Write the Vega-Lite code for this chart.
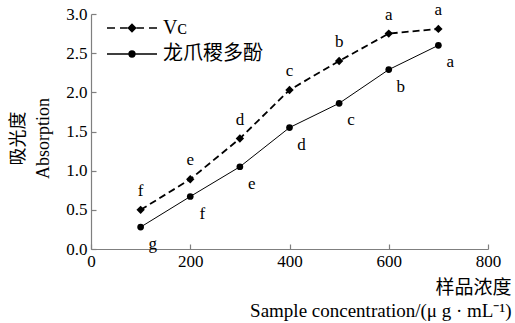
{
  "$schema": "https://vega.github.io/schema/vega-lite/v6.json",
  "autosize": "none",
  "width": 397,
  "height": 235,
  "padding": {"left": 91, "top": 14, "right": 27, "bottom": 74},
  "background": "white",
  "config": {
    "view": {"stroke": null},
    "font": "Liberation Serif",
    "axis": {
      "domainColor": "#7f7f7f",
      "tickColor": "#7f7f7f",
      "domainWidth": 1.2,
      "tickWidth": 1.2,
      "grid": false,
      "labelFlush": false,
      "labelFont": "Liberation Serif",
      "labelFontSize": 17,
      "labelColor": "black",
      "titleFont": "Liberation Serif, Noto Sans CJK SC",
      "titleFontSize": 18,
      "titleFontWeight": "normal",
      "titleColor": "black"
    }
  },
  "data": {
    "values": [
      {"conc": 100, "abs": 0.50, "s": "Vc", "sig": "f"},
      {"conc": 200, "abs": 0.89, "s": "Vc", "sig": "e"},
      {"conc": 300, "abs": 1.41, "s": "Vc", "sig": "d"},
      {"conc": 400, "abs": 2.03, "s": "Vc", "sig": "c"},
      {"conc": 500, "abs": 2.40, "s": "Vc", "sig": "b"},
      {"conc": 600, "abs": 2.75, "s": "Vc", "sig": "a"},
      {"conc": 700, "abs": 2.81, "s": "Vc", "sig": "a"},
      {"conc": 100, "abs": 0.28, "s": "poly", "sig": "g"},
      {"conc": 200, "abs": 0.67, "s": "poly", "sig": "f"},
      {"conc": 300, "abs": 1.05, "s": "poly", "sig": "e"},
      {"conc": 400, "abs": 1.55, "s": "poly", "sig": "d"},
      {"conc": 500, "abs": 1.86, "s": "poly", "sig": "c"},
      {"conc": 600, "abs": 2.29, "s": "poly", "sig": "b"},
      {"conc": 700, "abs": 2.60, "s": "poly", "sig": "a"}
    ]
  },
  "encoding": {
    "x": {
      "field": "conc",
      "type": "quantitative",
      "scale": {"domain": [0, 800], "nice": false, "zero": false},
      "axis": {
        "values": [0, 200, 400, 600, 800],
        "tickSize": -5,
        "labelPadding": 9,
        "labelBaseline": "top",
        "title": ["样品浓度", "Sample concentration/(μ g · mL⁻¹)"],
        "titleAnchor": "end",
        "titleAlign": "right",
        "titleBaseline": "top",
        "titleFontSize": 19,
        "titleX": 420,
        "titleY": 29,
        "titleLineHeight": 23
      }
    },
    "y": {
      "field": "abs",
      "type": "quantitative",
      "scale": {"domain": [0, 3], "nice": false, "zero": false},
      "axis": {
        "values": [0, 0.5, 1, 1.5, 2, 2.5, 3],
        "format": ".1f",
        "tickSize": -5,
        "labelPadding": 9,
        "title": ["吸光度", "Absorption"],
        "titleAngle": -90,
        "titleAlign": "center",
        "titleBaseline": "top",
        "titleX": -82,
        "titleY": 124,
        "titleLineHeight": 25
      }
    }
  },
  "layer": [
    {
      "transform": [{"filter": "datum.s === 'poly'"}],
      "mark": {"type": "line", "color": "black", "strokeWidth": 1},
      "encoding": {}
    },
    {
      "transform": [{"filter": "datum.s === 'Vc'"}],
      "mark": {"type": "line", "color": "black", "strokeWidth": 1.8, "strokeDash": [7, 4]},
      "encoding": {}
    },
    {
      "transform": [{"filter": "datum.s === 'Vc'"}],
      "mark": {"type": "point", "shape": "diamond", "size": 70, "filled": true, "color": "black", "opacity": 1},
      "encoding": {}
    },
    {
      "transform": [{"filter": "datum.s === 'poly'"}],
      "mark": {"type": "point", "shape": "circle", "size": 45, "filled": true, "color": "black", "opacity": 1},
      "encoding": {}
    },
    {
      "mark": {"type": "point", "filled": false, "color": "black", "strokeWidth": 1.3, "opacity": 0},
      "encoding": {
        "shape": {
          "field": "s",
          "type": "nominal",
          "scale": {
            "domain": ["Vc", "poly"],
            "range": [
              "M-5,0H-3.4M-2.4,0H-0.9M0.9,0H2.4M3.4,0H5M0,-0.75L0.75,0L0,0.75L-0.75,0ZM0,-0.5L0.5,0L0,0.5L-0.5,0ZM0,-0.26L0.26,0L0,0.26L-0.26,0ZM0,-0.06L0.06,0L0,0.06L-0.06,0Z",
              "M-5,0H5M0.6,0A0.6,0.6,0,1,1,-0.6,0A0.6,0.6,0,1,1,0.6,0ZM0.36,0A0.36,0.36,0,1,1,-0.36,0A0.36,0.36,0,1,1,0.36,0ZM0.12,0A0.12,0.12,0,1,1,-0.12,0A0.12,0.12,0,1,1,0.12,0Z"
            ]
          },
          "legend": {
            "orient": "none",
            "legendX": 31,
            "legendY": 4,
            "title": null,
            "padding": 0,
            "symbolSize": 100,
            "symbolOpacity": 1,
            "symbolStrokeWidth": 1.3,
            "rowPadding": 6,
            "labelOffset": 21,
            "labelExpr": "datum.value === 'Vc' ? 'Vᴄ' : '龙爪稷多酚'",
            "labelFont": "Liberation Serif, Noto Sans CJK SC",
            "labelFontSize": 20,
            "labelColor": "black"
          }
        }
      }
    },
    {
      "transform": [{"filter": "datum.s === 'Vc'"}],
      "mark": {"type": "text", "dy": -19, "font": "Liberation Serif", "fontSize": 17, "color": "black", "baseline": "middle"},
      "encoding": {"text": {"field": "sig"}}
    },
    {
      "transform": [{"filter": "datum.s === 'poly'"}],
      "mark": {"type": "text", "dx": 12, "dy": 17, "font": "Liberation Serif", "fontSize": 17, "color": "black", "baseline": "middle"},
      "encoding": {"text": {"field": "sig"}}
    }
  ]
}
